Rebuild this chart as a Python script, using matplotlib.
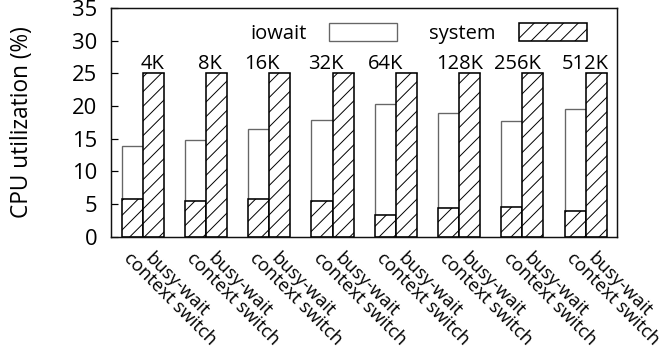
import matplotlib
matplotlib.use("Agg")
import matplotlib.pyplot as plt
from matplotlib.patches import Patch
from matplotlib.transforms import ScaledTranslation
import numpy as np

plt.rcParams['font.family'] = ['Open Sans', 'DejaVu Sans']
plt.rcParams['hatch.linewidth'] = 0.8
plt.rcParams['hatch.color'] = '#222222'

# request sizes
sizes = ["4K", "8K", "16K", "32K", "64K", "128K", "256K", "512K"]
modes = ["context switch", "busy-wait"]

# CPU utilization (%) per mode
cs_system = [5.7, 5.5, 5.7, 5.4, 3.3, 4.4, 4.5, 3.9]
cs_iowait = [8.2, 9.3, 10.7, 12.5, 17.0, 14.6, 13.2, 15.7]
bw_system = [25, 25, 25, 25, 25, 25, 25, 25]
bw_iowait = [0, 0, 0, 0, 0, 0, 0, 0]

DPI = 88
fig = plt.figure(figsize=(660 / DPI, 354 / DPI), dpi=DPI)
ax = fig.add_axes([111 / 660, 1 - 236.6 / 354, 506.3 / 660, 228.6 / 354])

x = np.arange(len(sizes))
w = 0.333
xl = x - w / 2
xr = x + w / 2

iow_style = dict(facecolor='white', edgecolor='#666666', linewidth=1.1)
sys_style = dict(facecolor='white', edgecolor='black', linewidth=1.3, hatch='//')

# context switch: system at the bottom, iowait stacked above
ax.bar(xl, cs_iowait, w, bottom=cs_system, **iow_style)
ax.bar(xl, cs_system, w, **sys_style)
# busy-wait
ax.bar(xr, bw_iowait, w, bottom=bw_system, **iow_style)
ax.bar(xr, bw_system, w, **sys_style)

ax.set_xlim(-0.5, len(sizes) - 0.5)
ax.set_ylim(0, 35)
ax.set_yticks(np.arange(0, 36, 5))
ax.tick_params(axis='y', direction='in', length=5.7, width=1.0, labelsize=18, pad=11)
ax.set_ylabel("CPU utilization (%)", fontsize=18.5, labelpad=31)

# two labels per group, one under each bar
ticks = np.ravel(np.column_stack([xl, xr]))
labels = [m for _ in sizes for m in modes]
ax.set_xticks(ticks)
ax.set_xticklabels(labels, rotation=-45, ha='left', va='top',
                   rotation_mode='anchor', fontsize=15)
ax.tick_params(axis='x', length=0, pad=10)
offset = ScaledTranslation(0.5 / 72, 0, fig.dpi_scale_trans)
for lab in ax.get_xticklabels():
    lab.set_transform(lab.get_transform() + offset)

# size labels above the busy-wait bars
label_dx = [0.15, 0.065, -0.11, -0.11, -0.16, 0.01, -0.08, -0.01]
for i, s in enumerate(sizes):
    ax.annotate(s, (x[i] + label_dx[i], bw_system[i]), xytext=(0, 3.5),
                textcoords='offset points', ha='center', va='baseline',
                fontsize=16.5)

for sp in ax.spines.values():
    sp.set_linewidth(1.2)
    sp.set_color('#111111')

handles = [Patch(label='iowait', **iow_style), Patch(label='system', **sys_style)]
ax.legend(handles=handles, ncol=2, markerfirst=False, frameon=False,
          loc='center left', bbox_to_anchor=(0.2745, 0.8876), borderpad=0,
          borderaxespad=0, fontsize=16.5, handlelength=3.37, handleheight=0.95,
          handletextpad=1.14, columnspacing=1.59)

fig.savefig("out.png", dpi=DPI)
